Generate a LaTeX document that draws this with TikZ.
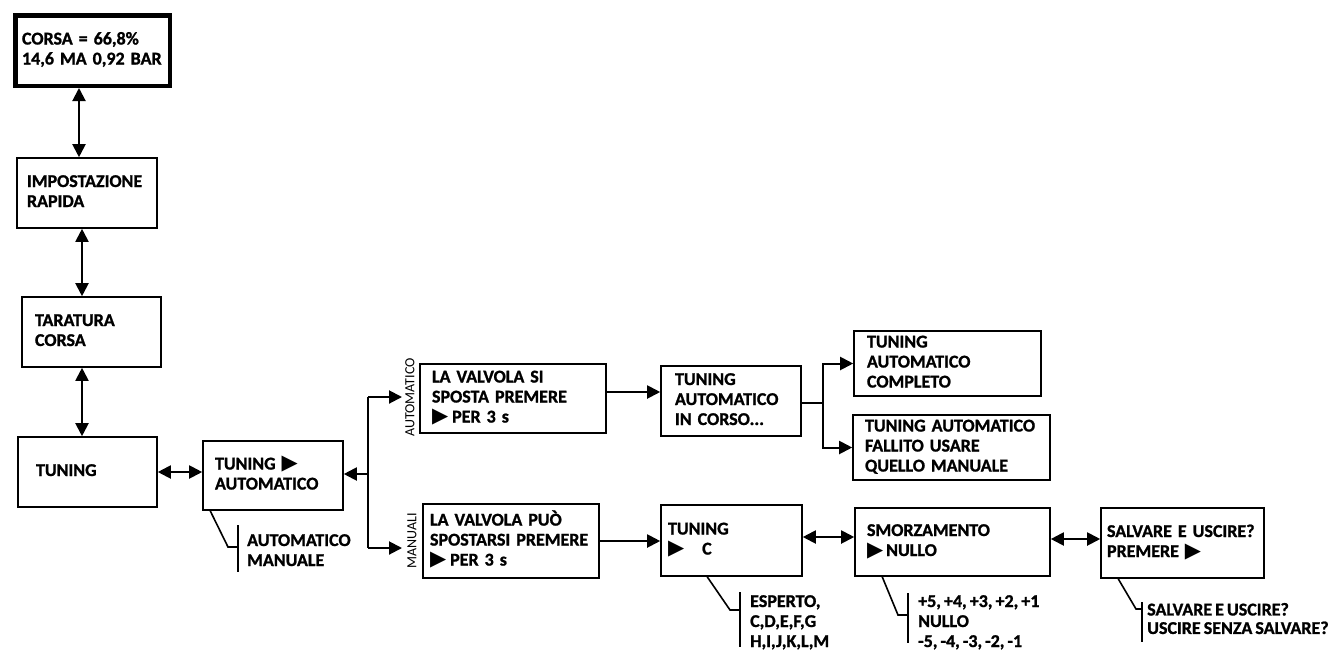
\documentclass[tikz,border=0pt]{standalone}
\usepackage{fontspec}
\setmainfont{Carlito}[WordSpace=0.75, BoldFeatures={FakeBold=1.2}]
\newfontfamily\symfont{DejaVu Sans}
\usetikzlibrary{arrows.meta}
% filled play triangle used in the menu texts
\newcommand{\tri}{\smash{\symfont\fontsize{21}{21}\selectfont ▶}}
% lines of a box kept on one line each
\newcommand{\lns}[1]{\begin{tabular}{@{}l@{}}#1\end{tabular}}

\begin{document}
\begin{tikzpicture}[x=1pt,y=-1pt,
  every node/.style={font=\bfseries\fontsize{18}{20}\selectfont},
  box/.style={draw, line width=1.6pt, inner ysep=0pt, align=left},
  arr/.style={line width=2pt, -{Triangle[length=13pt,width=13pt]}},
  dbl/.style={line width=2pt, {Triangle[length=13pt,width=13pt]}-{Triangle[length=13pt,width=13pt]}},
  link/.style={line width=2pt},
  callout/.style={line width=1.6pt},
  note/.style={anchor=west, inner sep=0pt},
  side/.style={rotate=90, inner sep=0pt, font=\fontsize{14}{15}\selectfont}
]
\useasboundingbox (0,0) rectangle (1343,651);

% ---- main menu column ----
\node[box, line width=4.5pt, minimum height=70.5pt, text width=141pt, inner xsep=6.75pt] (corsa) at (92.5,50.5) {\lns{CORSA = 66,8\%\\14,6 MA 0,92 BAR}};
\node[box, minimum height=70pt, text width=120pt, inner xsep=10pt] (impost) at (87,193) {\lns{IMPOSTAZIONE\\RAPIDA}};
\node[box, minimum height=70pt, text width=113pt, inner xsep=13pt] (taratura) at (91.5,332) {\lns{TARATURA\\CORSA}};
\node[box, minimum height=70pt, text width=103pt, inner xsep=18pt] (tuning) at (87.5,472) {\lns{TUNING}};

\coordinate (colA) at (79,0);
\coordinate (colB) at (82,0);
\draw[dbl] (corsa.south -| colA) -- (impost.north -| colA);
\draw[dbl] (impost.south -| colB) -- (taratura.north -| colB);
\draw[dbl] (taratura.south -| colB) -- (tuning.north -| colB);

% ---- tuning selection ----
\node[box, minimum height=69pt, text width=116pt, inner xsep=12pt] (tunauto) at (273,475.5) {\lns{TUNING \tri\\AUTOMATICO}};
\draw[dbl] (tuning.east) -- (tuning.east -| tunauto.west);

\coordinate (bA) at (368,397);
\coordinate (bC) at (368,474);
\coordinate (bM) at (368,548);
\coordinate (tA) at (402,397);
\coordinate (tM) at (402,548);
\draw[link] (bA) -- (bM);
\draw[arr] (bC) -- (bC -| tunauto.east);
\draw[arr] (bA) -- (tA);
\draw[arr] (bM) -- (tM);

\node[side] (labA) at (410,397.5) {AUTOMATICO};
\node[side] (labM) at (412,540.5) {MANUALI};

\node[box, minimum height=69pt, text width=162pt, inner xsep=12pt] (valvsi) at (513,398.5) {\lns{LA VALVOLA SI\\SPOSTA PREMERE\\\tri\kern4pt PER 3 s}};
\node[box, minimum height=74pt, text width=162pt, inner xsep=7pt] (valvpuo) at (511,541) {\lns{LA VALVOLA PUÒ\\SPOSTARSI PREMERE\\\tri\kern4pt PER 3 s}};

% ---- automatic tuning ----
\node[box, minimum height=70pt, text width=112pt, inner xsep=14pt] (incorso) at (731,401) {\lns{TUNING\\AUTOMATICO\\IN CORSO...}};
\coordinate (rowA) at (0,392);
\draw[arr] (valvsi.east |- rowA) -- (incorso.west |- rowA);

\node[box, minimum height=65pt, text width=161pt, inner xsep=13pt] (completo) at (947.5,363.5) {\lns{TUNING\\AUTOMATICO\\COMPLETO}};
\node[box, minimum height=65pt, text width=173pt, inner xsep=12pt] (fallito) at (951.5,447.5) {\lns{TUNING AUTOMATICO\\FALLITO USARE\\QUELLO MANUALE}};
\coordinate (bR) at (823,403);
\draw[link] (incorso.east |- bR) -- (bR);
\draw[arr] (bR) |- (completo.west);
\draw[arr] (bR) |- (fallito.west);

% ---- manual tuning ----
\node[box, minimum height=71pt, text width=127pt, inner xsep=7pt] (tunc) at (731.5,540.5) {\lns{TUNING\\\tri\hspace{18pt}C}};
\draw[arr] (valvpuo.east) -- (valvpuo.east -| tunc.west);

\node[box, minimum height=68pt, text width=171pt, inner xsep=12pt] (smorz) at (952.5,542) {\lns{SMORZAMENTO\\\tri\kern3pt NULLO}};
\node[box, minimum height=70pt, text width=151pt, inner xsep=6pt] (salva) at (1182.5,543) {\lns{SALVARE E USCIRE?\\PREMERE \tri}};
\coordinate (rowB) at (0,537);
\coordinate (rowC) at (0,539);
\draw[dbl] (tunc.east |- rowB) -- (smorz.west |- rowB);
\draw[dbl] (smorz.east |- rowC) -- (salva.west |- rowC);

% ---- option lists ----
\coordinate (kA) at (238,547);
\draw[callout] ([xshift=8pt]tunauto.south west) -- ([xshift=-10pt]kA) -- (kA);
\draw[callout] ([yshift=22pt]kA) -- ([yshift=-25pt]kA);
\node[note] (optA) at (247,552) {\lns{AUTOMATICO\\MANUALE}};

\coordinate (kB) at (740,610);
\draw[callout] ([xshift=47pt]tunc.south west) -- ([xshift=-10pt]kB) -- (kB);
\draw[callout] ([yshift=18pt]kB) -- ([yshift=-37pt]kB);
\node[note] (optB) at (750,623) {\lns{ESPERTO,\\C,D,E,F,G\\H,I,J,K,L,M}};

\coordinate (kC) at (908,615);
\draw[callout] ([xshift=28pt]smorz.south west) -- ([xshift=-10pt]kC) -- (kC);
\draw[callout] ([yshift=22pt]kC) -- ([yshift=-28pt]kC);
\node[note] (optC) at (918,623) {\lns{+5, +4, +3, +2, +1\\NULLO\\-5, -4, -3, -2, -1}};

\coordinate (kD) at (1142,609);
\draw[callout] ([xshift=18pt]salva.south west) -- ([xshift=-6pt]kD) -- (kD);
\draw[callout] ([yshift=7pt]kD) -- ([yshift=-33pt]kD);
\node[note, font=\bfseries\fontsize{18}{18.5}\selectfont] (optD) at (1147,621) {\lns{SALVARE E USCIRE?\\USCIRE SENZA SALVARE?}};
\end{tikzpicture}
\end{document}
